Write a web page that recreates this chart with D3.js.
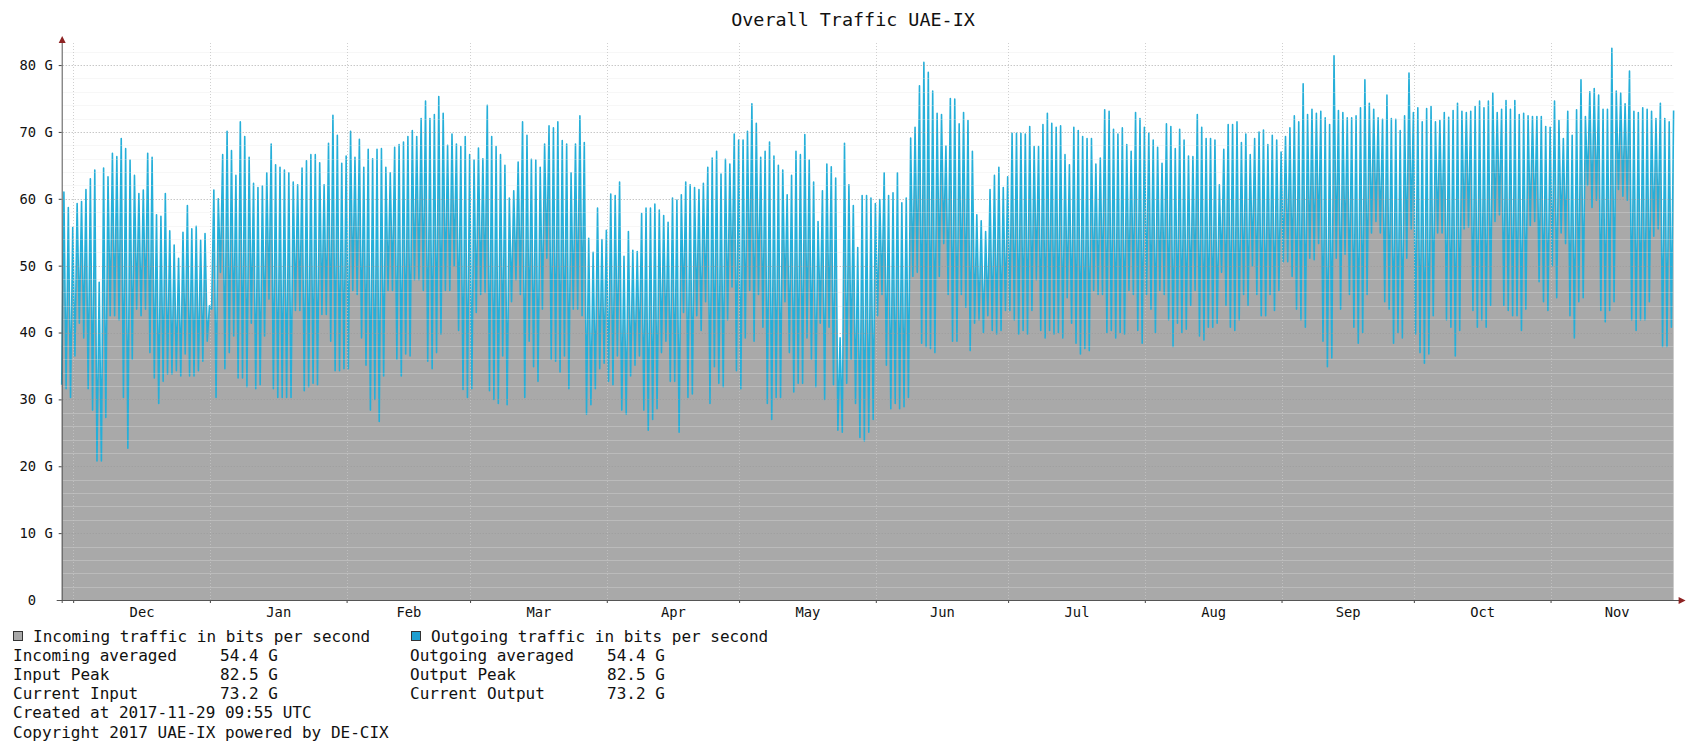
<!DOCTYPE html>
<meta charset="utf-8">
<style>
    body { margin: 0; background: #fff; }
    text { font-family: "DejaVu Sans Mono", monospace; fill: #111; }
    .title { font-size: 18.4px; text-anchor: middle; }
    .axis text { font-size: 13.8px; white-space: pre; fill: #111; }
    .axis line { stroke: #444; }
    .axis path { display: none; }
    .legend text { font-size: 16px; white-space: pre; }
</style>
<script src="https://d3js.org/d3.v7.min.js"></script>
<svg id="chart" width="1698" height="741"></svg>
<script>
// daily evening peaks, Gbit/s, from 2016-11-28 on
var peaks = [
    61.0, 58.7, 55.7, 59.3, 59.6, 61.4, 63.0, 64.3, 47.5, 64.6,
    63.3, 66.8, 66.3, 69.0, 67.5, 65.8, 63.5, 60.8, 61.3, 66.8,
    66.2, 57.6, 57.4, 60.8, 55.2, 53.1, 51.1, 55.0, 59.0, 55.5,
    55.9, 53.8, 54.8, 44.0, 61.3, 60.0, 66.6, 70.1, 67.2, 63.5,
    71.5, 69.3, 66.2, 62.3, 61.7, 61.9, 63.9, 68.2, 65.1, 64.7,
    64.3, 63.9, 62.5, 62.1, 64.6, 65.7, 66.6, 66.6, 65.4, 62.1,
    68.3, 72.5, 69.5, 65.3, 66.4, 70.1, 66.2, 68.9, 64.7, 67.4,
    66.0, 67.4, 67.5, 64.7, 63.9, 67.7, 68.1, 68.5, 69.3, 70.2,
    69.3, 72.0, 74.6, 72.0, 72.6, 75.3, 72.8, 68.0, 69.7, 68.2,
    67.8, 69.3, 66.6, 65.8, 67.6, 66.0, 74.0, 69.3, 67.8, 66.6,
    65.0, 60.1, 61.2, 65.5, 71.5, 69.5, 65.9, 65.8, 64.7, 68.2,
    70.9, 70.6, 71.5, 68.7, 68.2, 63.9, 68.2, 72.4, 68.4, 54.1,
    52.0, 58.6, 53.9, 55.3, 60.7, 60.5, 62.5, 51.4, 55.1, 52.3,
    52.1, 57.8, 58.6, 58.6, 59.2, 58.3, 57.5, 56.5, 60.1, 59.8,
    60.6, 62.5, 62.1, 61.7, 61.4, 62.3, 64.7, 66.1, 67.1, 63.7,
    65.9, 65.2, 69.7, 68.8, 68.8, 70.1, 74.2, 71.3, 66.2, 67.1,
    68.5, 66.4, 65.0, 64.3, 60.6, 63.5, 67.1, 66.6, 69.6, 65.8,
    62.5, 56.6, 61.2, 65.2, 64.8, 63.1, 39.2, 68.3, 62.1, 59.0,
    52.7, 60.5, 60.5, 60.1, 59.3, 59.9, 63.9, 60.5, 60.9, 63.9,
    59.4, 60.1, 69.1, 70.7, 76.9, 80.4, 78.9, 76.1, 72.8, 72.6,
    67.9, 75.0, 74.9, 71.2, 72.9, 71.7, 67.1, 57.6, 56.7, 55.1,
    61.4, 63.5, 64.7, 61.7, 63.3, 69.8, 69.8, 69.8, 69.7, 70.8,
    67.8, 67.8, 71.1, 72.8, 71.3, 70.7, 70.9, 66.6, 65.1, 70.7,
    70.2, 69.3, 69.0, 69.0, 65.2, 66.1, 73.3, 73.1, 70.4, 69.7,
    70.6, 68.1, 67.1, 72.9, 72.0, 70.7, 69.8, 68.8, 67.7, 65.3,
    71.2, 70.8, 67.5, 70.4, 68.8, 66.4, 66.3, 72.6, 70.7, 69.0,
    69.0, 68.8, 62.1, 67.4, 71.1, 71.1, 71.5, 68.4, 69.7, 66.6,
    69.0, 70.0, 70.3, 68.1, 69.5, 68.8, 67.0, 69.3, 70.6, 72.4,
    71.5, 77.2, 72.6, 73.4, 72.8, 73.1, 72.1, 71.1, 81.4, 73.2,
    72.9, 72.1, 72.1, 72.4, 73.6, 77.8, 74.3, 73.4, 72.1, 71.9,
    75.5, 72.0, 71.9, 70.2, 72.4, 78.8, 72.9, 73.6, 71.5, 73.5,
    73.8, 71.5, 71.7, 72.9, 72.2, 73.2, 74.3, 73.1, 72.9, 73.1,
    73.8, 74.6, 73.6, 74.6, 75.8, 72.9, 73.4, 74.7, 73.4, 74.7,
    72.6, 72.8, 72.4, 72.3, 72.3, 72.3, 70.8, 70.7, 74.6, 71.7,
    69.0, 73.1, 69.5, 73.3, 77.8, 72.3, 76.0, 76.5, 75.5, 73.4,
    73.4, 82.5, 76.1, 75.8, 74.2, 79.1, 73.1, 72.9, 73.6, 73.4,
    73.1, 72.0, 74.3, 72.0, 71.5, 73.2
];

// daily morning lows, Gbit/s, same days
var troughs = [
    32.2, 31.6, 30.3, 36.5, 41.4, 39.2, 31.6, 28.4, 20.8, 20.8,
    27.3, 42.5, 42.5, 41.9, 30.3, 22.7, 36.0, 43.5, 42.5, 43.5,
    37.0, 33.2, 29.4, 32.7, 33.8, 33.8, 34.3, 33.5, 36.8, 33.5,
    33.5, 34.3, 35.7, 38.7, 43.5, 30.3, 49.0, 34.6, 37.0, 39.5,
    33.2, 33.2, 31.9, 41.4, 31.6, 32.2, 39.5, 45.0, 31.6, 30.3,
    30.3, 30.3, 30.3, 43.3, 43.3, 31.3, 31.9, 32.4, 32.2, 42.7,
    42.7, 38.7, 34.3, 34.3, 34.6, 34.6, 46.3, 45.7, 39.2, 35.1,
    28.4, 30.0, 26.7, 33.5, 46.3, 46.3, 36.0, 33.5, 36.8, 36.5,
    47.9, 47.9, 46.3, 35.7, 34.6, 37.0, 39.8, 46.3, 46.3, 50.0,
    40.3, 31.5, 30.3, 31.6, 43.0, 45.7, 46.0, 31.3, 30.0, 29.4,
    36.5, 29.2, 44.6, 47.9, 45.7, 30.3, 38.7, 34.9, 32.7, 43.5,
    51.1, 36.0, 35.7, 34.1, 36.5, 31.6, 43.5, 43.5, 42.5, 27.8,
    29.2, 31.6, 34.6, 35.4, 32.7, 32.2, 36.5, 28.4, 27.8, 33.5,
    35.1, 36.5, 28.4, 25.4, 27.0, 28.6, 37.0, 38.7, 32.7, 32.7,
    25.1, 43.0, 30.3, 30.8, 42.5, 40.3, 44.6, 29.4, 34.9, 32.4,
    31.9, 41.9, 46.8, 34.3, 31.6, 39.2, 46.3, 38.7, 45.7, 40.8,
    29.4, 27.0, 30.3, 30.3, 44.6, 37.0, 31.1, 32.4, 32.4, 39.2,
    36.0, 31.9, 41.4, 30.0, 40.8, 32.2, 25.4, 25.1, 32.4, 36.0,
    29.4, 24.3, 23.8, 25.1, 27.0, 42.5, 45.7, 35.1, 28.6, 29.4,
    28.6, 28.9, 30.3, 48.4, 49.0, 38.4, 37.9, 37.6, 37.0, 48.4,
    53.3, 45.7, 38.7, 38.7, 45.7, 43.8, 37.3, 41.4, 41.9, 40.0,
    42.5, 40.3, 39.8, 40.3, 43.3, 43.3, 41.9, 39.8, 40.3, 39.8,
    43.3, 47.9, 40.3, 39.2, 40.3, 39.8, 40.0, 39.2, 45.2, 41.4,
    38.4, 36.8, 37.6, 37.3, 46.3, 45.7, 45.7, 40.0, 40.3, 39.2,
    40.0, 39.8, 46.3, 45.7, 40.3, 38.4, 45.7, 43.5, 40.0, 46.3,
    45.7, 41.9, 37.9, 41.4, 40.0, 40.5, 44.1, 46.3, 39.5, 38.9,
    40.8, 40.8, 41.4, 49.0, 44.1, 40.8, 40.3, 41.9, 45.7, 44.1,
    50.0, 45.7, 42.5, 42.5, 45.7, 43.3, 46.3, 50.6, 50.6, 48.4,
    43.5, 41.9, 40.8, 51.1, 50.9, 53.3, 38.7, 34.9, 36.2, 51.1,
    43.5, 51.7, 45.7, 40.8, 38.4, 40.0, 45.7, 54.9, 56.6, 54.9,
    44.6, 43.5, 38.4, 40.0, 39.2, 51.1, 55.5, 39.8, 37.0, 35.4,
    36.8, 42.5, 54.9, 54.9, 41.9, 40.8, 36.5, 40.3, 55.5, 55.8,
    43.3, 40.8, 41.9, 40.8, 44.1, 56.6, 57.6, 44.1, 43.3, 42.5,
    42.5, 40.3, 43.5, 56.0, 56.6, 47.6, 44.6, 43.3, 50.0, 45.2,
    54.9, 53.3, 42.5, 39.2, 44.6, 45.2, 62.0, 58.7, 59.8, 43.3,
    41.6, 43.3, 44.6, 61.4, 60.4, 59.8, 41.9, 40.3, 41.9, 41.9,
    44.6, 54.4, 55.5, 37.9, 37.9, 40.8
];

var yTicks = [0, 10, 20, 30, 40, 50, 60, 70, 80];

var legendIn = [
    ["Incoming averaged", "54.4 G"],
    ["Input Peak", "82.5 G"],
    ["Current Input", "73.2 G"]
];
var legendOut = [
    ["Outgoing averaged", "54.4 G"],
    ["Output Peak", "82.5 G"],
    ["Current Output", "73.2 G"]
];
var footer = [
    "Created at 2017-11-29 09:55 UTC",
    "Copyright 2017 UAE-IX powered by DE-CIX"
];

var hour = 3600 * 1000, day = 24 * hour;
var firstDay = Date.UTC(2016, 10, 28);

// one low in the morning and one peak in the evening, every day
var series = [];
peaks.forEach(function (p, i) {
    series.push({ t: new Date(firstDay + i * day + 9.6 * hour), v: troughs[i] });
    series.push({ t: new Date(firstDay + i * day + 21.6 * hour), v: p });
});

var svg = d3.select("#chart");
var plotLeft = 61.7, plotRight = 1673.6, plotTop = 43, plotBottom = 600;

var x = d3.scaleUtc()
    .domain([series[0].t, series[series.length - 1].t])
    .range([plotLeft, plotRight]);

var y = d3.scaleLinear()
    .domain([0, 83.3])
    .range([plotBottom, plotTop]);

svg.append("text")
    .attr("class", "title")
    .attr("x", 853)
    .attr("y", 26)
    .text("Overall Traffic UAE-IX");

// data
svg.append("path")
    .datum(series)
    .attr("fill", "#a9a9a9")
    .attr("d", d3.area()
        .x(function (d) { return x(d.t); })
        .y0(y(0))
        .y1(function (d) { return y(d.v); }));

svg.append("path")
    .datum(series)
    .attr("fill", "none")
    .attr("stroke", "#25afd9")
    .attr("stroke-width", 1.6)
    .attr("stroke-linejoin", "round")
    .attr("d", d3.line()
        .x(function (d) { return x(d.t); })
        .y(function (d) { return y(d.v); }));

// grid is drawn over the data, like rrdtool does
var grid = svg.append("g");
grid.selectAll("line.minor")
    .data(d3.range(2, 84, 2).filter(function (v) { return v % 10; }))
    .enter().append("line")
    .attr("class", "minor")
    .attr("x1", plotLeft + 1).attr("x2", plotRight)
    .attr("y1", function (d) { return Math.round(y(d)) + 0.5; })
    .attr("y2", function (d) { return Math.round(y(d)) + 0.5; })
    .attr("stroke", "#e6e6e6")
    .attr("stroke-opacity", 0.3);

grid.selectAll("line.major")
    .data(yTicks.slice(1))
    .enter().append("line")
    .attr("class", "major")
    .attr("x1", plotLeft + 1).attr("x2", plotRight)
    .attr("y1", function (d) { return Math.round(y(d)) + 0.5; })
    .attr("y2", function (d) { return Math.round(y(d)) + 0.5; })
    .attr("stroke", "#9a9a9a")
    .attr("stroke-opacity", 0.8)
    .attr("stroke-dasharray", "1,2");

var monthStarts = d3.utcMonth.range(new Date(Date.UTC(2016, 11, 1)), x.domain()[1]);
grid.selectAll("line.month")
    .data(monthStarts)
    .enter().append("line")
    .attr("class", "month")
    .attr("x1", function (d) { return Math.round(x(d)) + 0.5; })
    .attr("x2", function (d) { return Math.round(x(d)) + 0.5; })
    .attr("y1", plotTop)
    .attr("y2", plotBottom)
    .attr("stroke", "#c4c4c4")
    .attr("stroke-opacity", 0.8)
    .attr("stroke-dasharray", "1,2");

// axes
svg.append("g")
    .attr("class", "axis")
    .attr("transform", "translate(" + plotLeft + ",0)")
    .call(d3.axisLeft(y)
        .tickValues(yTicks)
        .tickSize(3)
        .tickPadding(6)
        .tickFormat(function (d) { return d ? d + " G" : "0  "; }));

svg.append("g")
    .attr("class", "axis")
    .attr("transform", "translate(0," + plotBottom + ")")
    .call(d3.axisBottom(x).tickValues(monthStarts).tickSize(3).tickFormat(""));

var midMonths = monthStarts.map(function (m) {
    return new Date((+m + +d3.utcMonth.offset(m, 1)) / 2);
});
svg.append("g")
    .attr("class", "axis")
    .attr("transform", "translate(0," + plotBottom + ")")
    .call(d3.axisBottom(x).tickValues(midMonths).tickSize(0).tickPadding(7)
        .tickFormat(d3.utcFormat("%b")));

svg.append("line")
    .attr("x1", plotLeft - 5).attr("x2", plotRight + 6)
    .attr("y1", plotBottom + 0.5).attr("y2", plotBottom + 0.5)
    .attr("stroke", "#555");
svg.append("line")
    .attr("x1", plotLeft + 0.5).attr("x2", plotLeft + 0.5)
    .attr("y1", plotBottom + 3).attr("y2", plotTop - 1)
    .attr("stroke", "#555");
svg.append("path")
    .attr("d", "M" + (plotLeft + 0.5) + "," + (plotTop - 7) + "l-3.5,7h7z")
    .attr("fill", "#8e2323");
svg.append("path")
    .attr("d", "M" + (plotRight + 12) + "," + (plotBottom + 0.5) + "l-7,-3.5v7z")
    .attr("fill", "#8e2323");

// legend
var legend = svg.append("g").attr("class", "legend");
var rowY = function (i) { return 641.5 + i * 19.2; };

legend.append("rect")
    .attr("x", 13.5).attr("y", 631.5).attr("width", 9).attr("height", 9)
    .attr("fill", "#a9a9a9").attr("stroke", "#333");
legend.append("text").attr("x", 33).attr("y", rowY(0))
    .text("Incoming traffic in bits per second");

legend.append("rect")
    .attr("x", 411.5).attr("y", 631.5).attr("width", 9).attr("height", 9)
    .attr("fill", "#1f9fd0").attr("stroke", "#333");
legend.append("text").attr("x", 431).attr("y", rowY(0))
    .text("Outgoing traffic in bits per second");

legendIn.forEach(function (r, i) {
    legend.append("text").attr("x", 13).attr("y", rowY(i + 1)).text(r[0]);
    legend.append("text").attr("x", 220).attr("y", rowY(i + 1)).text(r[1]);
});
legendOut.forEach(function (r, i) {
    legend.append("text").attr("x", 410).attr("y", rowY(i + 1)).text(r[0]);
    legend.append("text").attr("x", 607).attr("y", rowY(i + 1)).text(r[1]);
});
footer.forEach(function (s, i) {
    legend.append("text").attr("x", 13).attr("y", rowY(i + 4)).text(s);
});
</script>
